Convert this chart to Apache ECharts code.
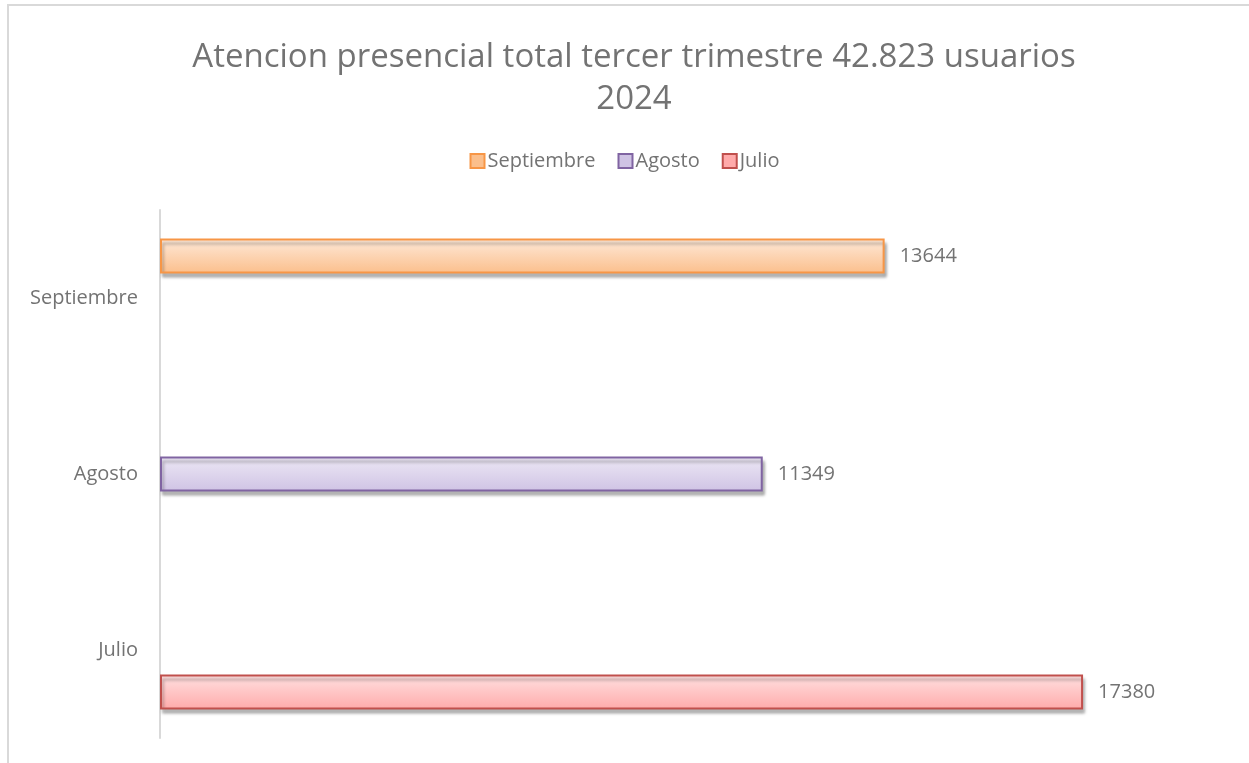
<!DOCTYPE html>
<html lang="es">
<head>
    <meta charset="UTF-8">
    <title>Atencion presencial</title>
    <style>
        html, body { margin: 0; padding: 0; background: #fff; }
        #main { width: 1249px; height: 763px; }
    </style>
</head>
<body>
    <div id="main"></div>
    <script src="https://cdn.jsdelivr.net/npm/echarts@6/dist/echarts.min.js"></script>
    <script>
        // datos
        var categorias = ['Julio', 'Agosto', 'Septiembre'];
        var meses = ['Septiembre', 'Agosto', 'Julio'];
        var valores = { Septiembre: 13644, Agosto: 11349, Julio: 17380 };

        var colores = {
            Septiembre: { top: '#FEE9D9', bottom: '#FBBF8C', borde: '#F79646' },
            Agosto: { top: '#EDE8F5', bottom: '#CFC3E4', borde: '#8064A2' },
            Julio: { top: '#FFE1E1', bottom: '#FFAAAA', borde: '#C0504D' }
        };
        var fuente = '"Open Sans", "Noto Sans", sans-serif';
        var gris = '#737373';

        var series = meses.map(function (m) {
            // un valor por categoria, solo en la suya
            var data = categorias.map(function (c) { return c === m ? valores[m] : null; });
            var c = colores[m];
            return {
                name: m,
                type: 'bar',
                data: data,
                barWidth: 35,
                barGap: '20%',
                itemStyle: {
                    color: new echarts.graphic.LinearGradient(0, 0, 0, 1, [
                        { offset: 0, color: c.top },
                        { offset: 1, color: c.bottom }
                    ]),
                    borderColor: c.borde,
                    borderWidth: 2,
                    shadowColor: 'rgba(0,0,0,0.28)',
                    shadowBlur: 3,
                    shadowOffsetX: 2,
                    shadowOffsetY: 4
                },
                label: {
                    show: true,
                    position: 'right',
                    distance: 15,
                    color: gris,
                    fontSize: 20,
                    fontFamily: fuente
                }
            };
        });

        var chart = echarts.init(document.getElementById('main'));
        chart.setOption({
            animation: false,
            title: {
                text: 'Atencion presencial total tercer trimestre 42.823 usuarios\n2024',
                left: 629,
                textAlign: 'center',
                top: 32,
                textStyle: {
                    color: gris,
                    fontSize: 33,
                    fontWeight: 'normal',
                    fontFamily: fuente,
                    lineHeight: 42
                }
            },
            legend: {
                top: 146,
                left: 'center',
                icon: 'rect',
                itemWidth: 14,
                itemHeight: 14,
                itemGap: 22,
                textStyle: { color: gris, fontSize: 20, fontFamily: fuente, padding: [0, 0, 0, -2] },
                data: meses.map(function (m) {
                    return {
                        name: m,
                        itemStyle: { color: colores[m].bottom, borderColor: colores[m].borde, borderWidth: 2, shadowBlur: 0, shadowOffsetX: 0, shadowOffsetY: 0 }
                    };
                })
            },
            grid: { left: 160, top: 210, width: 956, height: 528 },
            xAxis: {
                type: 'value',
                min: 0,
                max: 18000,
                show: false
            },
            yAxis: {
                type: 'category',
                data: categorias,
                axisLine: { lineStyle: { color: '#d9d9d9', width: 2 } },
                axisTick: { show: false },
                axisLabel: { color: gris, fontSize: 20, fontFamily: fuente, margin: 22 }
            },
            graphic: [{
                type: 'polyline',
                shape: { points: [[8, 763], [8, 5], [1249, 5]] },
                style: { stroke: '#d9d9d9', lineWidth: 2, fill: null }
            }],
            series: series
        });
    </script>
</body>
</html>
